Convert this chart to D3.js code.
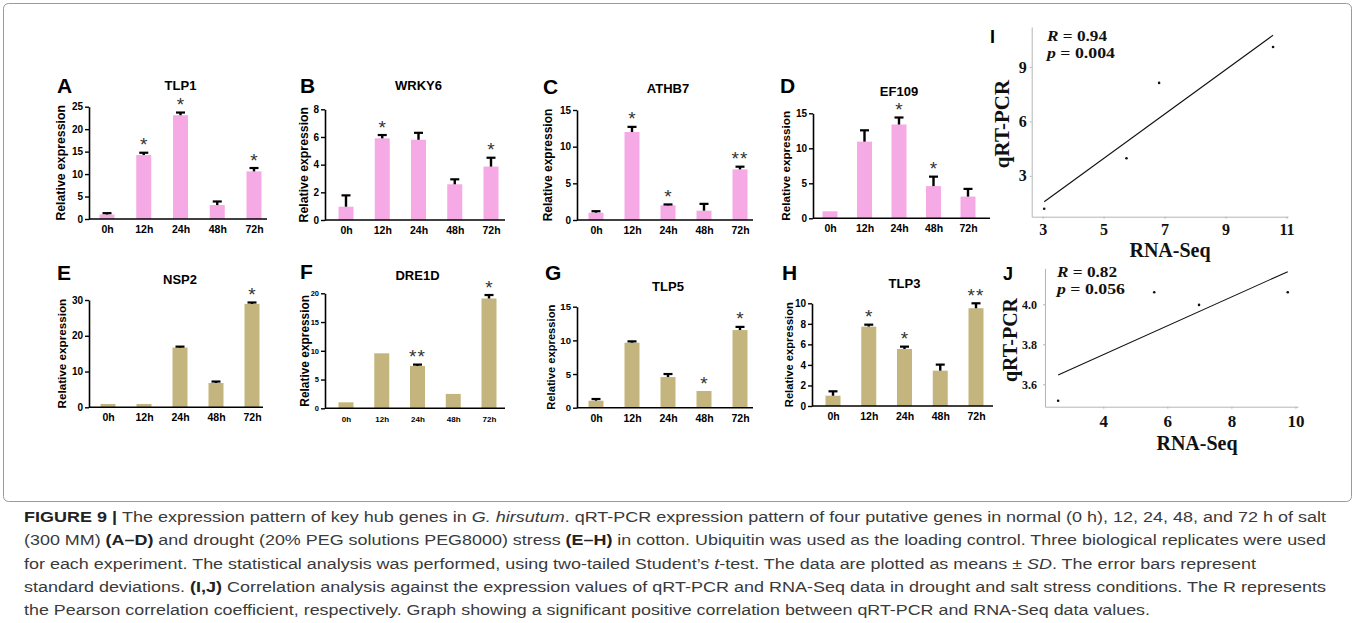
<!DOCTYPE html>
<html>
<head>
<meta charset="UTF-8">
<title>Figure 9 - key hub genes</title>
<script src="https://d3js.org/d3.v7.min.js"></script>
<style>
  body { margin: 0; background: #fff; }
  svg { display: block; }
</style>
</head>
<body>
<svg width="1355" height="623"></svg>
<script>
// ---- data ----
const hours = ["0h", "12h", "24h", "48h", "72h"];

const meanTLP1  = [1.0, 14.25, 23.1, 3.1, 10.6];
const sdTLP1    = [0.3, 0.5, 0.6, 0.8, 0.75];
const starTLP1  = ["", "*", "*", "", "*"];

const meanWRKY6 = [0.96, 5.9, 5.8, 2.58, 3.86];
const sdWRKY6   = [0.82, 0.24, 0.5, 0.36, 0.64];
const starWRKY6 = ["", "*", "", "", "*"];

const meanATHB7 = [1.0, 12.0, 2.0, 1.27, 6.9];
const sdATHB7   = [0.2, 0.7, 0.12, 0.93, 0.37];
const starATHB7 = ["", "*", "*", "", "**"];

const meanEF109 = [1.0, 10.95, 13.4, 4.6, 3.1];
const sdEF109   = [0, 1.62, 1.0, 1.35, 1.1];
const starEF109 = ["", "", "*", "*", ""];

const meanNSP2  = [0.93, 0.93, 16.7, 6.8, 28.9];
const sdNSP2    = [0, 0, 0.26, 0.4, 0.4];
const starNSP2  = ["", "", "", "", "*"];

const meanDRE1D = [1.04, 9.56, 7.36, 2.5, 19.1];
const sdDRE1D   = [0, 0, 0.24, 0, 0.6];
const starDRE1D = ["", "", "**", "", "*"];

const meanTLP5  = [1.04, 9.65, 4.55, 2.48, 11.53];
const sdTLP5    = [0.25, 0.2, 0.45, 0, 0.47];
const starTLP5  = ["", "", "", "*", "*"];

const meanTLP3  = [1.0, 7.73, 5.55, 3.44, 9.52];
const sdTLP3    = [0.43, 0.19, 0.23, 0.59, 0.48];
const starTLP3  = ["", "*", "*", "", "**"];

// correlation panels
const rnaI  = [3.05, 5.75, 6.82, 10.56];
const qpcrI = [1.19, 3.97, 8.12, 10.1];
const statI = ["0.94", "0.004"];
const xTicksI = [3, 5, 7, 9, 11];
const yTicksI = [3, 6, 9];

const rnaJ  = [2.59, 5.59, 6.99, 9.76];
const qpcrJ = [3.518, 4.06, 3.997, 4.06];
const statJ = ["0.82", "0.056"];
const xTicksJ = [4, 6, 8, 10];
const yTicksJ = [3.6, 3.8, 4.0];

// ---- layout ----
const SANS = "'Liberation Sans', Arial, sans-serif";
const SERIF = "'Liberation Serif', 'Times New Roman', serif";
const PINK = "#f5a9e5", OLIVE = "#c3b57d";
const barW = 15;

const svg = d3.select("svg");

svg.append("rect")
  .attr("x", 3.5).attr("y", 3.5).attr("width", 1348).attr("height", 498)
  .attr("rx", 5).attr("fill", "none").attr("stroke", "#9a9a9a");

const panels = [
  { letter: "A", gene: "TLP1",  mean: meanTLP1,  sd: sdTLP1,  star: starTLP1,  color: PINK,
    ax: 89,  cx: [107, 254], xEnd: 267, y0: 219,   yTop: 106.7, max: 25, step: 5,
    lx: 57,  ly: 93, ty: 90, ylx: 65, tfs: 10, xfs: 10.5, yfs: 12.3 },
  { letter: "B", gene: "WRKY6", mean: meanWRKY6, sd: sdWRKY6, star: starWRKY6, color: PINK,
    ax: 325, cx: [346, 491], xEnd: 505, y0: 220,   yTop: 109.3, max: 8, step: 2,
    lx: 300, ly: 93, ty: 90, ylx: 308, tfs: 10, xfs: 10.5, yfs: 12.3 },
  { letter: "C", gene: "ATHB7", mean: meanATHB7, sd: sdATHB7, star: starATHB7, color: PINK,
    ax: 577, cx: [596, 740], xEnd: 753, y0: 220,   yTop: 110, max: 15, step: 5,
    lx: 543, ly: 94, ty: 92.5, ylx: 552, tfs: 10, xfs: 10.5, yfs: 12 },
  { letter: "D", gene: "EF109", mean: meanEF109, sd: sdEF109, star: starEF109, color: PINK,
    ax: 813, cx: [830, 968], xEnd: 990, y0: 218.3, yTop: 113.3, max: 15, step: 5,
    lx: 780, ly: 93, ty: 96, ylx: 790, tfs: 10, xfs: 10.5, yfs: 11.7 },
  { letter: "E", gene: "NSP2",  mean: meanNSP2,  sd: sdNSP2,  star: starNSP2,  color: OLIVE,
    ax: 89,  cx: [108, 252], xEnd: 263, y0: 407.3, yTop: 300, max: 30, step: 10,
    lx: 57,  ly: 280, ty: 284, ylx: 66, tfs: 10, xfs: 10.5, yfs: 11.7 },
  { letter: "F", gene: "DRE1D", mean: meanDRE1D, sd: sdDRE1D, star: starDRE1D, color: OLIVE,
    ax: 325, cx: [346, 489], xEnd: 505, y0: 408.3, yTop: 293.3, max: 20, step: 5,
    lx: 300, ly: 279, ty: 280, ylx: 309, tfs: 7.5, xfs: 8, yfs: 11.9 },
  { letter: "G", gene: "TLP5",  mean: meanTLP5,  sd: sdTLP5,  star: starTLP5,  color: OLIVE,
    ax: 577, cx: [596, 740], xEnd: 753, y0: 407.7, yTop: 306.7, max: 15, step: 5,
    lx: 545, ly: 280, ty: 291, ylx: 555, tfs: 9.6, xfs: 10.5, yfs: 11.2 },
  { letter: "H", gene: "TLP3",  mean: meanTLP3,  sd: sdTLP3,  star: starTLP3,  color: OLIVE,
    ax: 812, cx: [833, 976], xEnd: 993, y0: 406,   yTop: 303.3, max: 10, step: 2,
    lx: 782, ly: 280, ty: 288, ylx: 793, tfs: 10, xfs: 10.5, yfs: 11.2 }
];

panels.forEach(p => {
  const g = svg.append("g");
  const x = d3.scalePoint().domain(hours).range(p.cx);
  const y = d3.scaleLinear().domain([0, p.max]).range([p.y0, p.yTop]);
  const rows = hours.map((h, i) => ({ h, m: p.mean[i], sd: p.sd[i], star: p.star[i] }));

  g.selectAll(".bar").data(rows).join("rect")
    .attr("class", "bar")
    .attr("x", d => x(d.h) - barW / 2)
    .attr("width", barW)
    .attr("y", d => y(d.m))
    .attr("height", d => y(0) - y(d.m))
    .attr("fill", p.color);

  // error bars (upper half only)
  const eb = rows.filter(d => d.sd > 0);
  g.selectAll(".stem").data(eb).join("line")
    .attr("class", "stem")
    .attr("x1", d => x(d.h)).attr("x2", d => x(d.h))
    .attr("y1", d => y(d.m)).attr("y2", d => y(d.m + d.sd))
    .attr("stroke", "#000").attr("stroke-width", 2.4);
  g.selectAll(".cap").data(eb).join("line")
    .attr("class", "cap")
    .attr("x1", d => x(d.h) - 4.5).attr("x2", d => x(d.h) + 4.5)
    .attr("y1", d => y(d.m + d.sd)).attr("y2", d => y(d.m + d.sd))
    .attr("stroke", "#000").attr("stroke-width", 2.2);

  // significance stars
  g.selectAll(".star").data(rows.filter(d => d.star)).join("text")
    .attr("class", "star")
    .attr("x", d => x(d.h))
    .attr("y", d => y(d.m + d.sd) - 1.5)
    .attr("text-anchor", "middle")
    .attr("font-family", SANS).attr("font-size", 19)
    .attr("letter-spacing", d => d.star.length > 1 ? 1 : 0)
    .attr("fill", "#333")
    .text(d => d.star);

  // y axis
  const ya = g.append("g")
    .attr("transform", `translate(${p.ax},0)`)
    .call(d3.axisLeft(y)
      .tickValues(d3.range(0, p.max + 1e-9, p.step))
      .tickSize(4).tickSizeOuter(0).tickPadding(2));
  ya.attr("font-family", SANS).attr("font-size", p.tfs).attr("font-weight", "bold");
  ya.select(".domain").attr("stroke-width", 1.6);
  ya.selectAll(".tick line").attr("stroke-width", 1.4);
  ya.selectAll(".tick text").attr("fill", "#000");

  // x axis
  g.append("line")
    .attr("x1", p.ax).attr("x2", p.xEnd).attr("y1", p.y0).attr("y2", p.y0)
    .attr("stroke", "#000").attr("stroke-width", 1.6);
  const xa = g.append("g")
    .attr("transform", `translate(0,${p.y0})`)
    .call(d3.axisBottom(x).tickSize(0));
  xa.select(".domain").remove();
  xa.attr("font-family", SANS).attr("font-size", p.xfs).attr("font-weight", "bold");
  xa.selectAll("text").attr("y", 14).attr("dy", 0).attr("fill", "#000");

  // labels
  const midY = (p.y0 + p.yTop) / 2;
  g.append("text")
    .attr("transform", `translate(${p.ylx},${midY}) rotate(-90)`)
    .attr("text-anchor", "middle")
    .attr("font-family", SANS).attr("font-weight", "bold").attr("font-size", p.yfs)
    .text("Relative expression");
  g.append("text")
    .attr("x", (p.cx[0] + p.cx[1]) / 2).attr("y", p.ty)
    .attr("text-anchor", "middle")
    .attr("font-family", SANS).attr("font-weight", "bold").attr("font-size", 13)
    .text(p.gene);
  g.append("text")
    .attr("x", p.lx).attr("y", p.ly)
    .attr("font-family", SANS).attr("font-weight", "bold").attr("font-size", 21)
    .text(p.letter);
});

// ---- correlation panels ----
const corr = [
  { letter: "I", rna: rnaI, qpcr: qpcrI, stat: statI, xt: xTicksI, yt: yTicksI,
    xd: [2.64, 11.05], xr: [1031.7, 1288], yd: [0.75, 11.2], yr: [216.7, 27],
    lx: 990, ly: 43, xlab: [1170, 257], ylab: [1009, 124], ylfs: 21,
    sx: 1047, sy: 40.5, sw: [60, 68], xtOff: 18.5, ytPad: 5, ytfs: 16, xtfs: 16, yfmt: d3.format("d") },
  { letter: "J", rna: rnaJ, qpcr: qpcrJ, stat: statJ, xt: xTicksJ, yt: yTicksJ,
    xd: [2.18, 10.08], xr: [1045, 1298], yd: [3.488, 4.18], yr: [406.7, 268.3],
    lx: 1003, ly: 280, xlab: [1197, 450], ylab: [1017, 340], ylfs: 20,
    sx: 1057, sy: 277, sw: [60, 68], xtOff: 20, ytPad: 8, ytfs: 12, xtfs: 17, yfmt: d3.format(".1f") }
];

corr.forEach(c => {
  const g = svg.append("g");
  const x = d3.scaleLinear().domain(c.xd).range(c.xr);
  const y = d3.scaleLinear().domain(c.yd).range(c.yr);

  const xa = g.append("g").attr("transform", `translate(0,${c.yr[0]})`)
    .call(d3.axisBottom(x).tickValues(c.xt).tickSize(2).tickSizeOuter(0).tickPadding(0));
  xa.attr("font-family", SERIF).attr("font-weight", "bold").attr("font-size", c.xtfs);
  xa.selectAll("path,line").attr("stroke", "#b5b5b5");
  xa.selectAll("text").attr("y", c.xtOff).attr("dy", 0).attr("fill", "#111");

  const ya = g.append("g").attr("transform", `translate(${c.xr[0]},0)`)
    .call(d3.axisLeft(y).tickValues(c.yt).tickFormat(c.yfmt).tickSize(2).tickSizeOuter(0).tickPadding(c.ytPad - 2));
  ya.attr("font-family", SERIF).attr("font-weight", "bold").attr("font-size", c.ytfs);
  ya.selectAll("path,line").attr("stroke", "#b5b5b5");
  ya.selectAll("text").attr("fill", "#111");

  // least-squares fit over the data range
  const mx = d3.mean(c.rna), my = d3.mean(c.qpcr);
  const slope = d3.sum(c.rna, (v, i) => (v - mx) * (c.qpcr[i] - my)) / d3.sum(c.rna, v => (v - mx) ** 2);
  const fit = v => my + slope * (v - mx);
  const [x0, x1] = d3.extent(c.rna);
  g.append("line")
    .attr("x1", x(x0)).attr("y1", y(fit(x0)))
    .attr("x2", x(x1)).attr("y2", y(fit(x1)))
    .attr("stroke", "#111").attr("stroke-width", 1.1);

  g.selectAll(".pt").data(c.rna).join("circle")
    .attr("class", "pt")
    .attr("cx", d => x(d)).attr("cy", (d, i) => y(c.qpcr[i]))
    .attr("r", 1.3).attr("fill", "#111");

  const st = g.append("g").attr("font-family", SERIF).attr("font-weight", "bold").attr("font-size", 14.5).attr("fill", "#111");
  const t1 = st.append("text").attr("x", c.sx).attr("y", c.sy)
    .attr("textLength", c.sw[0]).attr("lengthAdjust", "spacingAndGlyphs");
  t1.append("tspan").attr("font-style", "italic").text("R");
  t1.append("tspan").text(" = " + c.stat[0]);
  const t2 = st.append("text").attr("x", c.sx).attr("y", c.sy + 17)
    .attr("textLength", c.sw[1]).attr("lengthAdjust", "spacingAndGlyphs");
  t2.append("tspan").attr("font-style", "italic").text("p");
  t2.append("tspan").text(" = " + c.stat[1]);

  g.append("text")
    .attr("x", c.xlab[0]).attr("y", c.xlab[1]).attr("text-anchor", "middle")
    .attr("font-family", SERIF).attr("font-weight", "bold").attr("font-size", 20).attr("fill", "#111")
    .text("RNA-Seq");
  g.append("text")
    .attr("transform", `translate(${c.ylab[0]},${c.ylab[1]}) rotate(-90)`)
    .attr("text-anchor", "middle")
    .attr("font-family", SERIF).attr("font-weight", "bold").attr("font-size", c.ylfs).attr("fill", "#111")
    .text("qRT-PCR");
  g.append("text")
    .attr("x", c.lx).attr("y", c.ly)
    .attr("font-family", SANS).attr("font-weight", "bold").attr("font-size", 18)
    .text(c.letter);
});

// ---- caption ----
const caption = [
  [["FIGURE 9 | ", "b"], ["The expression pattern of key hub genes in ", ""], ["G. hirsutum", "i"],
   [". qRT-PCR expression pattern of four putative genes in normal (0 h), 12, 24, 48, and 72 h of salt", ""]],
  [["(300 MM) ", ""], ["(A–D)", "b"], [" and drought (20% PEG solutions PEG8000) stress ", ""], ["(E–H)", "b"],
   [" in cotton. Ubiquitin was used as the loading control. Three biological replicates were used", ""]],
  [["for each experiment. The statistical analysis was performed, using two-tailed Student’s ", ""], ["t", "i"],
   ["-test. The data are plotted as means ± ", ""], ["SD", "i"], [". The error bars represent", ""]],
  [["standard deviations. ", ""], ["(I,J)", "b"],
   [" Correlation analysis against the expression values of qRT-PCR and RNA-Seq data in drought and salt stress conditions. The R represents", ""]],
  [["the Pearson correlation coefficient, respectively. Graph showing a significant positive correlation between qRT-PCR and RNA-Seq data values.", ""]]
];
const capEnds = [1326, 1326, 1256, 1326, 1150];
const capX = 24;

caption.forEach((line, i) => {
  const t = svg.append("text")
    .attr("x", capX).attr("y", 522 + i * 23.3)
    .attr("font-family", SANS).attr("font-size", 15.5).attr("fill", "#3a3a3a")
    .attr("textLength", capEnds[i] - capX).attr("lengthAdjust", "spacingAndGlyphs");
  line.forEach(([s, f]) => {
    const ts = t.append("tspan").text(s);
    if (f === "b") ts.attr("font-weight", "bold").attr("fill", "#222");
    if (f === "i") ts.attr("font-style", "italic");
  });
});
</script>
</body>
</html>
